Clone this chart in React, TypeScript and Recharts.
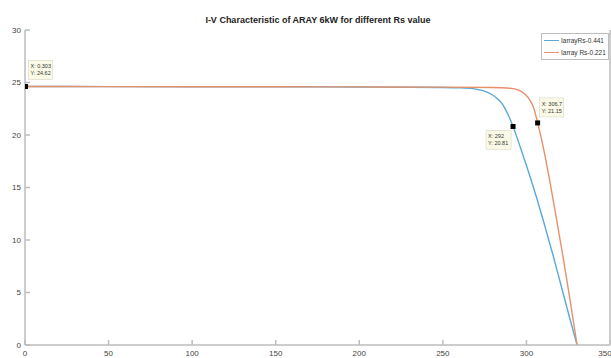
import { ComposedChart, Line, Scatter, XAxis, YAxis } from "recharts"

// array voltage (V) / current (A)
const voltageRs441 = [0, 50, 100, 150, 200, 250, 260, 268, 274, 279, 283, 286, 289, 292, 296, 300, 305, 310, 316, 321, 326, 330.3]
const currentRs441 = [24.62, 24.61, 24.6, 24.59, 24.57, 24.53, 24.5, 24.42, 24.22, 23.88, 23.4, 22.85, 21.95, 20.81, 19.0, 17.1, 14.6, 11.9, 8.5, 5.5, 2.5, 0]

const voltageRs221 = [0, 50, 100, 150, 200, 250, 280, 290, 295, 299, 302, 304.5, 306.7, 310, 314, 318, 322, 326, 330.3]
const currentRs221 = [24.62, 24.61, 24.6, 24.59, 24.58, 24.56, 24.52, 24.45, 24.3, 23.9, 23.35, 22.5, 21.15, 18.9, 15.6, 12.0, 8.3, 4.4, 0]

// data tips shown on the figure
const tipX = [0.303, 292, 306.7]
const tipY = [24.62, 20.81, 21.15]

const xTicks = [0, 50, 100, 150, 200, 250, 300, 350]
const yTicks = [0, 5, 10, 15, 20, 25, 30]

const legendNames = ["IarrayRs-0.441", "Iarray Rs-0.221"]

const seriesA = voltageRs441.map((v, k) => ({ v, i: currentRs441[k] }))
const seriesB = voltageRs221.map((v, k) => ({ v, i: currentRs221[k] }))
const tips = tipX.map((v, k) => ({ v, i: tipY[k], k }))

// where each tip box sits relative to its marker
const tipBox = [
  { dx: 3, dy: -26, w: 24 },
  { dx: -27, dy: 4, w: 25 },
  { dx: 2, dy: -25, w: 24 },
]

const FONT = "'Liberation Sans Narrow', Arial, 'Liberation Sans', sans-serif"
const AXIS = "#BDBDBD"
const BLUE = "#5AA9D8"
const ORANGE = "#E8906A"
const colors = [BLUE, ORANGE]

function TipShape(props: any) {
  const { cx, cy, payload } = props
  const b = tipBox[payload.k]
  const bx = cx + b.dx
  const by = cy + b.dy
  return (
    <g>
      <rect x={bx} y={by} width={b.w} height={19} fill="#FAFAE6" stroke="#D8D8C4" strokeWidth={0.6} />
      <text x={bx + 2} y={by + 8} fontSize={5.5} fontFamily={FONT} fill="#333">
        {"X: " + payload.v}
      </text>
      <text x={bx + 2} y={by + 15} fontSize={5.5} fontFamily={FONT} fill="#333">
        {"Y: " + payload.i}
      </text>
      <rect x={cx - 2.5} y={cy - 2.5} width={5} height={5} fill="#000" />
    </g>
  )
}

export default function App() {
  const tickStyle = { fill: "#444", fontSize: 8, fontFamily: FONT }
  return (
    <div style={{ position: "absolute", left: 0, top: 0, width: 611, height: 358, background: "#fff" }}>
      <ComposedChart width={611} height={358} margin={{ top: 30, right: 0, bottom: 0, left: 0 }}>
        <XAxis
          dataKey="v"
          type="number"
          domain={[0, 350]}
          ticks={xTicks}
          height={13}
          allowDataOverflow
          stroke={AXIS}
          strokeWidth={1.5}
          tickSize={-5}
          tickMargin={10}
          tick={tickStyle}
        />
        <XAxis
          xAxisId="top"
          orientation="top"
          dataKey="v"
          type="number"
          domain={[0, 350]}
          ticks={xTicks}
          height={0}
          stroke={AXIS}
          strokeWidth={1.5}
          tickSize={-5}
          tick={false}
        />
        <YAxis
          type="number"
          domain={[0, 30]}
          ticks={yTicks}
          width={25}
          stroke={AXIS}
          strokeWidth={1.5}
          tickSize={-5}
          tickMargin={9}
          tick={tickStyle}
        />
        <YAxis
          yAxisId="right"
          orientation="right"
          type="number"
          domain={[0, 30]}
          ticks={yTicks}
          width={1}
          stroke={AXIS}
          strokeWidth={1.5}
          tickSize={-5}
          tick={false}
        />
        <Line
          data={seriesA}
          dataKey="i"
          name={legendNames[0]}
          type="monotone"
          stroke={BLUE}
          strokeWidth={1.4}
          dot={false}
          isAnimationActive={false}
        />
        <Line
          data={seriesB}
          dataKey="i"
          name={legendNames[1]}
          type="monotone"
          stroke={ORANGE}
          strokeWidth={1.4}
          dot={false}
          isAnimationActive={false}
        />
        <Scatter data={tips} dataKey="i" legendType="none" shape={<TipShape />} isAnimationActive={false} />
      </ComposedChart>
      <div
        style={{
          position: "absolute",
          left: 0,
          width: 636,
          top: 15,
          textAlign: "center",
          fontFamily: FONT,
          fontWeight: "bold",
          fontSize: 9,
          color: "#222",
          whiteSpace: "nowrap",
        }}
      >
        I-V Characteristic of ARAY 6kW for different Rs value
      </div>
      <div
        style={{
          position: "absolute",
          left: 541,
          top: 33,
          width: 66,
          border: "1px solid #BDBDBD",
          background: "#fff",
          padding: "1px 0",
          fontFamily: FONT,
          fontSize: 6.5,
          color: "#333",
          lineHeight: "11.5px",
        }}
      >
        {legendNames.map((n, k) => (
          <div key={n} style={{ display: "flex", alignItems: "center", whiteSpace: "nowrap" }}>
            <span style={{ display: "inline-block", width: 15, height: 1.4, background: colors[k], margin: "0 2px 0 2px" }} />
            <span>{n}</span>
          </div>
        ))}
      </div>
    </div>
  )
}
